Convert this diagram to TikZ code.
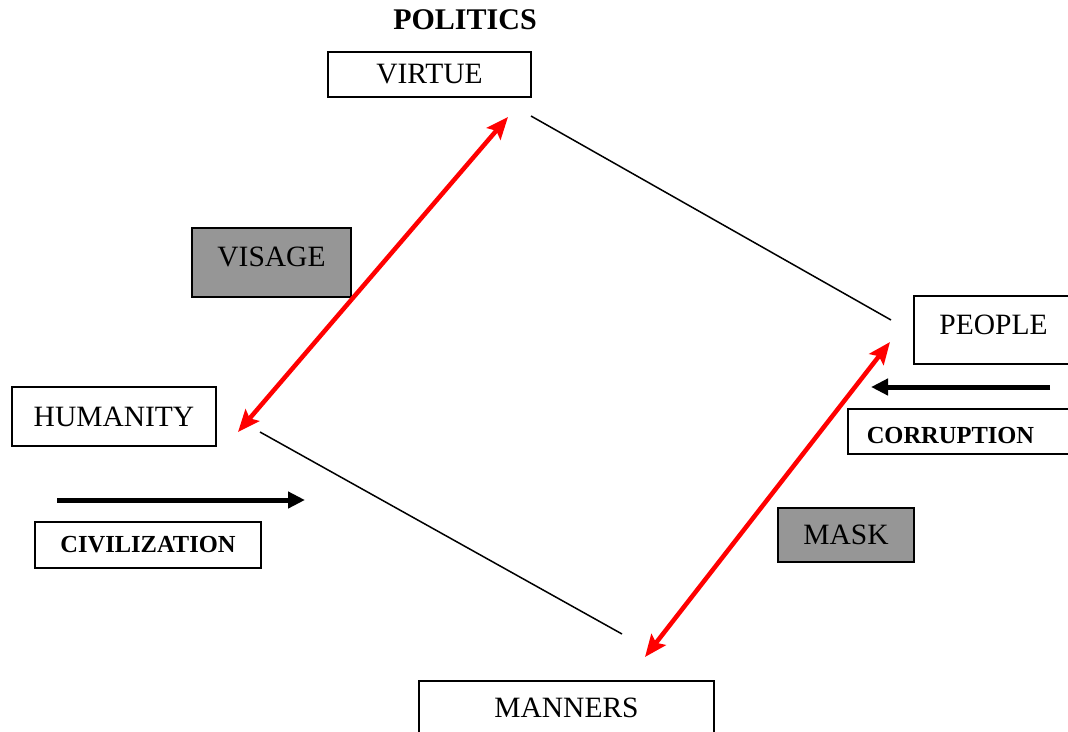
\documentclass[tikz,border=0pt]{standalone}
\usepackage{fontspec}
\setmainfont{Liberation Serif}
\usetikzlibrary{arrows.meta, positioning}
\definecolor{boxgray}{RGB}{150,150,150}

\begin{document}
\begin{tikzpicture}[
        x=1pt, y=-1pt,
        box/.style={draw, line width=1.5pt, inner sep=0pt, font=\fontsize{29.5}{32}\selectfont},
        greybox/.style={box, fill=boxgray},
        tag/.style={draw, line width=1.5pt, inner sep=0pt, font=\fontsize{24.5}{28}\selectfont\bfseries},
        link/.style={line width=1.5pt},
        redarrow/.style={{Stealth[length=22pt,width=18pt,inset=4pt]}-{Stealth[length=22pt,width=18pt,inset=4pt]}, red, line width=4.5pt},
        push/.style={-{Triangle[length=17pt,width=16pt]}, line width=5pt}
    ]
        \path[use as bounding box, clip] (0,0) rectangle (1068,731);

        \node[font=\fontsize{30}{34}\selectfont\bfseries] (politics) at (465,20) {POLITICS};
        \node[box, minimum width=203pt, minimum height=45pt] (virtue) at (429.5,74.5) {VIRTUE};
        \node[box, minimum width=159pt, minimum height=68pt, text depth=11pt] (people) at (993.5,330) {PEOPLE};
        \node[box, minimum width=204pt, minimum height=59pt] (humanity) at (114,416.5) {HUMANITY};
        \node[box, minimum width=295pt, minimum height=54pt] (manners) at (566.5,708) {MANNERS};
        \node[greybox, minimum width=159pt, minimum height=69pt, text depth=11pt] (visage) at (271.5,262.5) {VISAGE};
        \node[greybox, minimum width=136pt, minimum height=54pt] (mask) at (846,535) {MASK};
        \node[tag, minimum width=226pt, minimum height=46pt] (civilization) at (148,545) {CIVILIZATION};
        \node[tag, anchor=west, inner xsep=19pt, text width=190pt, align=left, minimum height=45pt, text height=24pt] (corruption) at (847,431.5) {CORRUPTION};

        % free ends of the connectors
        \coordinate (virtue-tip) at (508,117);
        \coordinate (humanity-tip) at (238,432);
        \coordinate (people-tip) at (890,342);
        \coordinate (manners-tip) at (645,657);
        \coordinate (virtue-end) at (531,116);
        \coordinate (people-end) at (891,320);
        \coordinate (humanity-end) at (260,432);
        \coordinate (manners-end) at (622,634);
        \coordinate (civ-start) at (57,500);
        \coordinate (civ-end) at (305,500);
        \coordinate (cor-start) at (1050,387);
        \coordinate (cor-end) at (871,387);

        \draw[redarrow] (virtue-tip) -- (humanity-tip);
        \draw[redarrow] (people-tip) -- (manners-tip);
        \draw[link] (virtue-end) -- (people-end);
        \draw[link] (humanity-end) -- (manners-end);
        \draw[push] (civ-start) -- (civ-end);
        \draw[push] (cor-start) -- (cor-end);
    \end{tikzpicture}
\end{document}
